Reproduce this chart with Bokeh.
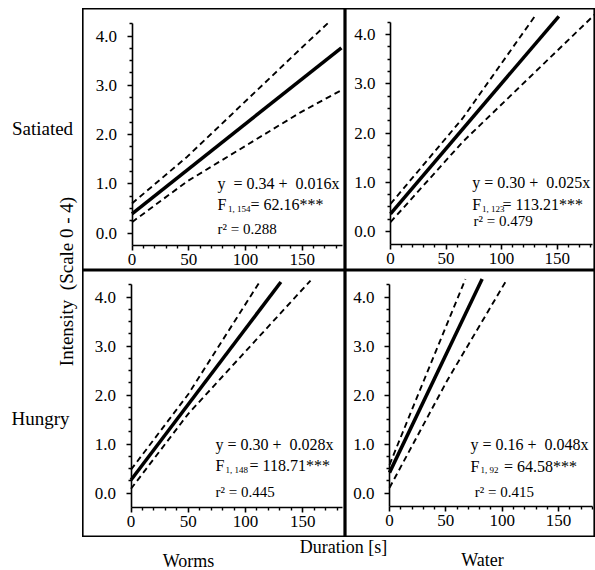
from bokeh.plotting import figure
from bokeh.models import Range1d, FixedTicker, NumeralTickFormatter, Label, LinearAxis, Spacer
from bokeh.layouts import row, column
from bokeh.embed import file_html
from bokeh.resources import INLINE

FONT = "Liberation Serif"
NB = "\u00a0"

# ---- data ----
x_ticks = [0, 50, 100, 150]
x_minor = [10, 20, 30, 40, 60, 70, 80, 90, 110, 120, 130, 140, 160, 170, 180]
y_ticks = [0, 1, 2, 3, 4]
y_minor = [0.25, 0.5, 0.75, 1.25, 1.5, 1.75, 2.25, 2.5, 2.75, 3.25, 3.5, 3.75, 4.25]

# Satiated / Worms
sw_fit_x = [0, 184.5]
sw_fit_y = [0.39, 3.76]
sw_hi_x = [0, 48.7, 148.5, 174.9]
sw_hi_y = [0.60, 1.55, 3.74, 4.31]
sw_lo_x = [0, 48.7, 148.5, 183.7]
sw_lo_y = [0.22, 1.05, 2.45, 2.89]

# Satiated / Water
sa_fit_x = [0, 151.5]
sa_fit_y = [0.36, 4.37]
sa_hi_x = [0, 65, 130.5]
sa_hi_y = [0.56, 2.30, 4.39]
sa_lo_x = [0, 65, 184.5]
sa_lo_y = [0.19, 1.82, 4.42]

# Hungry / Worms
hw_fit_x = [0, 130.9]
hw_fit_y = [0.27, 4.31]
hw_hi_x = [0, 50, 113.1]
hw_hi_y = [0.48, 2.02, 4.34]
hw_lo_x = [0, 50, 156.8]
hw_lo_y = [0.09, 1.62, 4.34]

# Hungry / Water
ha_fit_x = [0, 82.2]
ha_fit_y = [0.42, 4.37]
ha_hi_x = [0, 30.5, 67.4]
ha_hi_y = [0.58, 2.30, 4.37]
ha_lo_x = [0, 51.2, 104.4]
ha_lo_y = [0.11, 2.30, 4.37]

eq_texts = {
    "sw": ("y" + NB + " = 0.34 +" + NB + " 0.016x", "1, 154", "= 62.16***", "r\u00b2 = 0.288"),
    "sa": ("y = 0.30 +" + NB + " 0.025x", "1, 123", "= 113.21***", "r\u00b2 = 0.479"),
    "hw": ("y = 0.30 +" + NB + " 0.028x", "1, 148", "= 118.71***", "r\u00b2 = 0.445"),
    "ha": ("y = 0.16 +" + NB + " 0.048x", "1, 92", "= 64.58***", "r\u00b2 = 0.415"),
}

# ---- layout specs (page pixels) ----
specs = {
    "sw": dict(left=82, top=8, w=263, h=262, x0=131.5, xs=1.135, y0=232.5, ys=49.25, xax=245.0,
               tx=217, ty=(183, 204, 228), sub=227.5, eqx=250, r2x=217),
    "sa": dict(left=345, top=8, w=250, h=262, x0=390.0, xs=1.111, y0=231.0, ys=49.25, xax=244.0,
               tx=471.7, ty=(181.7, 204, 220), sub=481.5, eqx=502, r2x=473),
    "hw": dict(left=82, top=270, w=263, h=267, x0=130.5, xs=1.145, y0=492.7, ys=49.0, xax=507.3,
               tx=215, ty=(444, 465, 491.7), sub=225, eqx=249, r2x=215),
    "ha": dict(left=345, top=270, w=250, h=267, x0=389.0, xs=1.127, y0=492.7, ys=49.0, xax=506.0,
               tx=470, ty=(444, 465.7, 491.7), sub=480, eqx=503.5, r2x=474.3),
}

series = {
    "sw": (sw_fit_x, sw_fit_y, sw_hi_x, sw_hi_y, sw_lo_x, sw_lo_y),
    "sa": (sa_fit_x, sa_fit_y, sa_hi_x, sa_hi_y, sa_lo_x, sa_lo_y),
    "hw": (hw_fit_x, hw_fit_y, hw_hi_x, hw_hi_y, hw_lo_x, hw_lo_y),
    "ha": (ha_fit_x, ha_fit_y, ha_hi_x, ha_hi_y, ha_lo_x, ha_lo_y),
}


def X(s, px):
    return (px - s["x0"]) / s["xs"]


def Y(s, py):
    return (s["y0"] - py) / s["ys"]


def make_panel(key):
    s = specs[key]
    p = figure(width=s["w"], height=s["h"], output_backend="svg", toolbar_location=None,
               x_range=Range1d(X(s, s["left"]), X(s, s["left"] + s["w"])),
               y_range=Range1d(Y(s, s["top"] + s["h"]), Y(s, s["top"])),
               x_axis_location=None, y_axis_location=None,
               min_border=0, min_border_left=0, min_border_right=0,
               min_border_top=0, min_border_bottom=0)
    p.grid.grid_line_color = None
    p.background_fill_color = "white"
    p.border_fill_color = "white"
    p.outline_line_color = "black"
    p.outline_line_width = 2.2

    xa_loc = Y(s, s["xax"])
    xa = LinearAxis(fixed_location=xa_loc, bounds=(0, X(s, s["left"] + s["w"]) - 3),
                    ticker=FixedTicker(ticks=x_ticks, minor_ticks=x_minor))
    ya = LinearAxis(fixed_location=0, bounds=(xa_loc, 4.25),
                    ticker=FixedTicker(ticks=y_ticks, minor_ticks=y_minor),
                    formatter=NumeralTickFormatter(format="0.0"))
    for a in (xa, ya):
        a.axis_line_width = 1.6
        a.axis_line_color = "black"
        a.major_tick_line_width = 1.6
        a.minor_tick_line_width = 1.4
        a.major_tick_in = 0
        a.major_tick_out = 5
        a.minor_tick_in = 0
        a.minor_tick_out = 3
        a.major_label_text_font = FONT
        a.major_label_text_font_size = "17px"
        a.major_label_text_color = "black"
    xa.major_label_standoff = 3
    ya.major_label_standoff = 10
    p.add_layout(xa, "below")
    p.add_layout(ya, "left")

    fx, fy, hx, hy, lx, ly = series[key]
    p.line(fx, fy, line_color="black", line_width=3.5)
    p.line(hx, hy, line_color="black", line_width=1.9, line_dash="6 4")
    p.line(lx, ly, line_color="black", line_width=1.9, line_dash="6 4")

    eq, sub, fval, r2 = eq_texts[key]
    t1, t2, t3 = s["ty"]

    def lab(px, py, text, size="16px"):
        p.add_layout(Label(x=X(s, px), y=Y(s, py), text=text, text_font=FONT,
                           text_font_size=size, text_baseline="middle", text_align="left",
                           text_color="black"))

    lab(s["tx"], t1, eq)
    lab(s["tx"], t2, "F")
    lab(s["sub"], t2 + 4, sub, "9px")
    lab(s["eqx"], t2, fval)
    lab(s["r2x"], t3, r2, "15px")
    return p


tl = make_panel("sw")
tr = make_panel("sa")
bl = make_panel("hw")
br = make_panel("ha")


def text_fig(w, h):
    f = figure(width=w, height=h, output_backend="svg", toolbar_location=None,
               x_range=Range1d(0, w), y_range=Range1d(h, 0),
               x_axis_location=None, y_axis_location=None, min_border=0,
               min_border_left=0, min_border_right=0, min_border_top=0, min_border_bottom=0)
    f.grid.grid_line_color = None
    f.outline_line_color = None
    f.background_fill_color = "white"
    f.border_fill_color = "white"
    return f


left = text_fig(82, 529)
for txt, cx, cy, ang in [("Satiated", 42, 120, 0), ("Hungry", 40, 410, 0),
                         ("Intensity" + NB + " (Scale 0 - 4)", 66, 273, 1.5707963)]:
    left.add_layout(Label(x=cx, y=cy, text=txt, text_font=FONT, text_font_size="19px",
                          text_align="center", text_baseline="middle", angle=ang,
                          text_color="black"))

bottom = text_fig(595, 33)
for txt, cx, cy in [("Worms", 188, 23), ("Duration [s]", 343, 9), ("Water", 482, 22)]:
    bottom.add_layout(Label(x=cx, y=cy, text=txt, text_font=FONT, text_font_size="18px",
                            text_align="center", text_baseline="middle", text_color="black"))

layout = column(Spacer(width=595, height=8),
                row(left, column(row(tl, tr), row(bl, br))),
                bottom)

open("out.html", "w").write(file_html(layout, INLINE))
